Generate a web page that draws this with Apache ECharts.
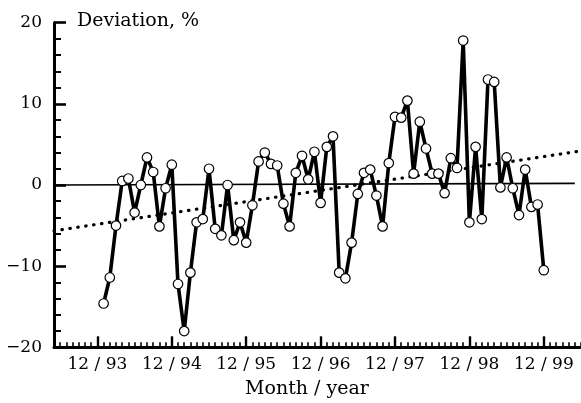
<!DOCTYPE html>
<html>
<head>
<meta charset="utf-8">
<script src="https://cdn.jsdelivr.net/npm/echarts@6/dist/echarts.min.js"></script>
<style>
html,body{margin:0;padding:0;background:#fff;}
#chart{width:581px;height:403px;}
</style>
</head>
<body>
<div id="chart"></div>
<script>
// Monthly deviation, %, from 1/94 (month 1) to 12/99 (month 72); month 0 = 12/93
const firstMonth = 1;
const deviation = [
  -14.6, -11.4, -5.0, 0.5, 0.8, -3.4, 0.0, 3.4, 1.6, -5.1, -0.4, 2.5,
  -12.2, -18.0, -10.8, -4.6, -4.2, 2.0, -5.4, -6.2, 0.0, -6.8, -4.6, -7.1,
  -2.5, 2.9, 4.0, 2.6, 2.4, -2.3, -5.1, 1.5, 3.6, 0.7, 4.1, -2.2,
  4.7, 6.0, -10.8, -11.5, -7.1, -1.1, 1.5, 1.9, -1.3, -5.1, 2.7, 8.4,
  8.3, 10.4, 1.4, 7.8, 4.5, 1.4, 1.4, -1.0, 3.3, 2.1, 17.8, -4.6,
  4.7, -4.2, 13.0, 12.7, -0.3, 3.4, -0.4, -3.7, 1.9, -2.7, -2.4, -10.5
];
const tickMonths = [0, 12, 24, 36, 48, 60, 72];
const tickLabels = ['12 / 93', '12 / 94', '12 / 95', '12 / 96', '12 / 97', '12 / 98', '12 / 99'];
const xRange = [-7, 78];
const trendX = [-7, 78];
const trendY = [-5.65, 4.2];
const zeroX = [-7, 77];
const zeroY = [0, 0.2];

const serif = 'DejaVu Serif';
const chart = echarts.init(document.getElementById('chart'), null, {renderer: 'canvas'});

const mainData = deviation.map((v, i) => [firstMonth + i, v]);
const trendData = trendX.map((x, i) => [x, trendY[i]]);
const zeroData = zeroX.map((x, i) => [x, zeroY[i]]);

chart.setOption({
  animation: false,
  backgroundColor: '#fff',
  title: [
    {text: 'Deviation, %', left: 77, top: 12, padding: 0,
     textStyle: {fontFamily: serif, fontSize: 19, fontWeight: 'normal', color: '#000'}},
    {text: 'Month / year', left: 245, top: 380, padding: 0,
     textStyle: {fontFamily: serif, fontSize: 19, fontWeight: 'normal', color: '#000'}}
  ],
  grid: {left: 54, right: 0, top: 22.7, bottom: 55.7, containLabel: false},
  xAxis: [
    {
      type: 'value', min: xRange[0], max: xRange[1], interval: 1,
      axisLine: {show: true, onZero: false, lineStyle: {color: '#000', width: 3}},
      axisTick: {show: true, inside: true, length: 5, lineStyle: {color: '#000', width: 1.6}},
      axisLabel: {show: false},
      splitLine: {show: false}
    },
    {
      type: 'value', min: xRange[0], max: xRange[1], position: 'bottom',
      axisLine: {show: false, onZero: false},
      axisTick: {show: true, inside: true, length: 11, customValues: tickMonths,
                 lineStyle: {color: '#000', width: 2.4}},
      axisLabel: {show: true, customValues: tickMonths, margin: 9,
                  fontFamily: serif, fontSize: 17, color: '#000',
                  formatter: v => tickLabels[tickMonths.indexOf(v)] || ''},
      splitLine: {show: false}
    }
  ],
  yAxis: {
    type: 'value', min: -20, max: 20, interval: 10,
    axisLine: {show: true, onZero: false, lineStyle: {color: '#000', width: 3}},
    axisTick: {show: true, inside: true, length: 12, lineStyle: {color: '#000', width: 2.6}},
    minorTick: {show: true, splitNumber: 5, length: 7, lineStyle: {color: '#000', width: 2}},
    axisLabel: {margin: 12, fontFamily: serif, fontSize: 17, color: '#000',
                formatter: v => (v < 0 ? '\u2212' + Math.abs(v) : String(v))},
    splitLine: {show: false}
  },
  series: [
    {
      type: 'line', data: zeroData, showSymbol: false, silent: true, z: 1,
      lineStyle: {color: '#000', width: 1.6}
    },
    {
      type: 'line', data: trendData, showSymbol: false, silent: true, z: 2,
      lineStyle: {color: '#000', width: 3.2, type: [0.5, 7.5], cap: 'round'}
    },
    {
      type: 'line', data: mainData, z: 3,
      symbol: 'circle', symbolSize: 9.5,
      itemStyle: {color: '#fff', borderColor: '#000', borderWidth: 1.2},
      lineStyle: {color: '#000', width: 3.6}
    }
  ]
});
</script>
</body>
</html>
